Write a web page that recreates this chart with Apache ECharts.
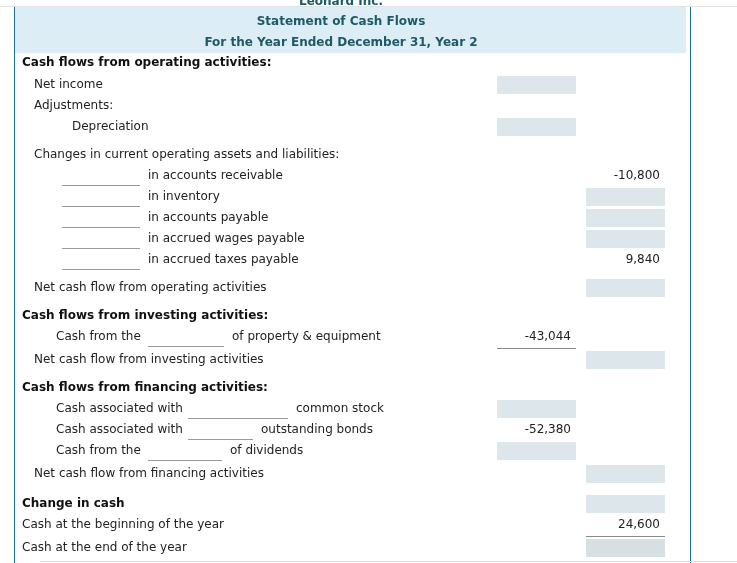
<!DOCTYPE html>
<html><head><meta charset="utf-8">
<script src="https://cdn.jsdelivr.net/npm/echarts@6/dist/echarts.min.js"></script>
<style>html,body{margin:0;padding:0;background:#fff}#c{width:737px;height:563px}</style>
</head><body><div id="c"></div>
<script>
// ---- data ----
const company = "Leonard Inc.";
const titles = ["Statement of Cash Flows", "For the Year Ended December 31, Year 2"];
const rowLabels = [
  "", "", "Cash flows from operating activities:", "Net income", "Adjustments:", "Depreciation",
  "Changes in current operating assets and liabilities:", "in accounts receivable", "in inventory",
  "in accounts payable", "in accrued wages payable", "in accrued taxes payable",
  "Net cash flow from operating activities", "Cash flows from investing activities:",
  "Cash from the", "Net cash flow from investing activities", "Cash flows from financing activities:",
  "Cash associated with", "Cash associated with", "Cash from the",
  "Net cash flow from financing activities", "Change in cash",
  "Cash at the beginning of the year", "Cash at the end of the year"
];
const boldRows = [2, 13, 16, 21];
const suffixLabels = [[14, "of property & equipment"], [17, "common stock"], [18, "outstanding bonds"], [19, "of dividends"]];
const amountRows = [7, 11, 14, 18, 22];
const amountCols = [2, 2, 1, 1, 2];
const amountValues = [-10800, 9840, -43044, -52380, 24600];
const boxRows = [3, 5, 17, 19, 8, 9, 10, 12, 15, 20, 21, 23];
const boxCols = [1, 1, 1, 1, 2, 2, 2, 2, 2, 2, 2, 2];
const underlineRows = [14, 22];
const underlineCols = [1, 2];

// ---- layout ----
const rowY = [22,43,63,85,106,127,155,176,197,218,239,260,288,316,337,360,388,409,430,451,474,504,525,548];
const indent = {2:22,3:34,4:34,5:72,6:34,7:148,8:148,9:148,10:148,11:148,12:34,13:22,14:56,15:34,16:22,17:56,18:56,19:56,20:34,21:22,22:22,23:22};
const suffixX = {14:232,17:296,18:261,19:230};
const blanks = {7:[62,140],8:[62,140],9:[62,140],10:[62,140],11:[62,140],14:[148,224],17:[188,288],18:[188,253],19:[148,222]};
const colX = {1:[497,576], 2:[586,665]};
const FONT = 'DejaVu Sans, Verdana, sans-serif';
const fmt = v => (v < 0 ? '-' : '') + Math.abs(v).toLocaleString('en-US');

const chart = echarts.init(document.getElementById('c'));
function seg(api, x1, y1, x2, y2, color, w) {
  const a = api.coord([x1, y1]), b = api.coord([x2, y2]);
  return {type:'line', shape:{x1:a[0],y1:a[1],x2:b[0],y2:b[1]}, style:{stroke:color, lineWidth:w||1}};
}
function rect(api, x1, y1, x2, y2, fill) {
  const a = api.coord([x1, y1]), b = api.coord([x2, y2]);
  return {type:'rect', shape:{x:a[0],y:a[1],width:b[0]-a[0],height:b[1]-a[1]}, style:{fill:fill}};
}
function txt(api, x, y, s, opt) {
  const p = api.coord([x, y]);
  return {type:'text', x:p[0], y:p[1], style:Object.assign({text:s, font:'12px '+FONT, fill:'#222', align:'left', verticalAlign:'middle'}, opt||{})};
}

const frame = {type:'custom', renderItem:(params, api) => ({type:'group', children:[
  seg(api, 0, 6.5, 737, 6.5, '#e2e2e2', 1),
  rect(api, 15, 7, 686, 53, '#dcedf6'),
  seg(api, 14.5, 7, 14.5, 563, '#1f6f9a', 1),
  seg(api, 690.5, 7, 690.5, 563, '#1f6f9a', 1),
  seg(api, 40, 561.5, 737, 561.5, '#dddddd', 1),
  txt(api, 341, 2, company, {align:'center', font:'bold 12px '+FONT, fill:'#1d5a66'}),
  txt(api, 341, rowY[0], titles[0], {align:'center', font:'bold 12px '+FONT, fill:'#1d5a66'}),
  txt(api, 341, rowY[1], titles[1], {align:'center', font:'bold 12px '+FONT, fill:'#1d5a66'})
]}), data:[[0,0]], silent:true, clip:true};

const labels = {type:'custom', renderItem:(params, api) => {
  const i = params.dataIndex + 2;
  const ch = [txt(api, indent[i], rowY[i], rowLabels[i], boldRows.includes(i) ? {font:'bold 12px '+FONT, fill:'#111'} : {})];
  const sf = suffixLabels.find(s => s[0] === i);
  if (sf) ch.push(txt(api, suffixX[i], rowY[i], sf[1]));
  if (blanks[i]) ch.push(seg(api, blanks[i][0], rowY[i]+9.5, blanks[i][1], rowY[i]+9.5, '#9a9a9a', 1));
  return {type:'group', children:ch};
}, data: rowLabels.slice(2).map((l, k) => [0, k])};

const boxes = {type:'custom', renderItem:(params, api) => {
  const r = boxRows[params.dataIndex], c = boxCols[params.dataIndex];
  return rect(api, colX[c][0], rowY[r]-9, colX[c][1], rowY[r]+9, r === 23 ? '#d6dfe2' : '#dde6ea');
}, data: boxRows.map((r, k) => [0, k])};

const amounts = {type:'custom', renderItem:(params, api) => {
  const k = params.dataIndex, r = amountRows[k], c = amountCols[k];
  return txt(api, colX[c][1]-5, rowY[r], fmt(amountValues[k]), {align:'right'});
}, data: amountValues.map((v, k) => [0, k])};

const unders = {type:'custom', renderItem:(params, api) => {
  const k = params.dataIndex, r = underlineRows[k], c = underlineCols[k];
  return seg(api, colX[c][0], rowY[r]+11.5, colX[c][1], rowY[r]+11.5, '#8a8a8a', 1);
}, data: underlineRows.map((r, k) => [0, k])};

chart.setOption({
  animation:false,
  grid:{left:0, right:0, top:0, bottom:0},
  xAxis:{type:'value', min:0, max:737, show:false},
  yAxis:{type:'value', min:0, max:563, inverse:true, show:false},
  series:[frame, boxes, unders, labels, amounts]
});
</script></body></html>
